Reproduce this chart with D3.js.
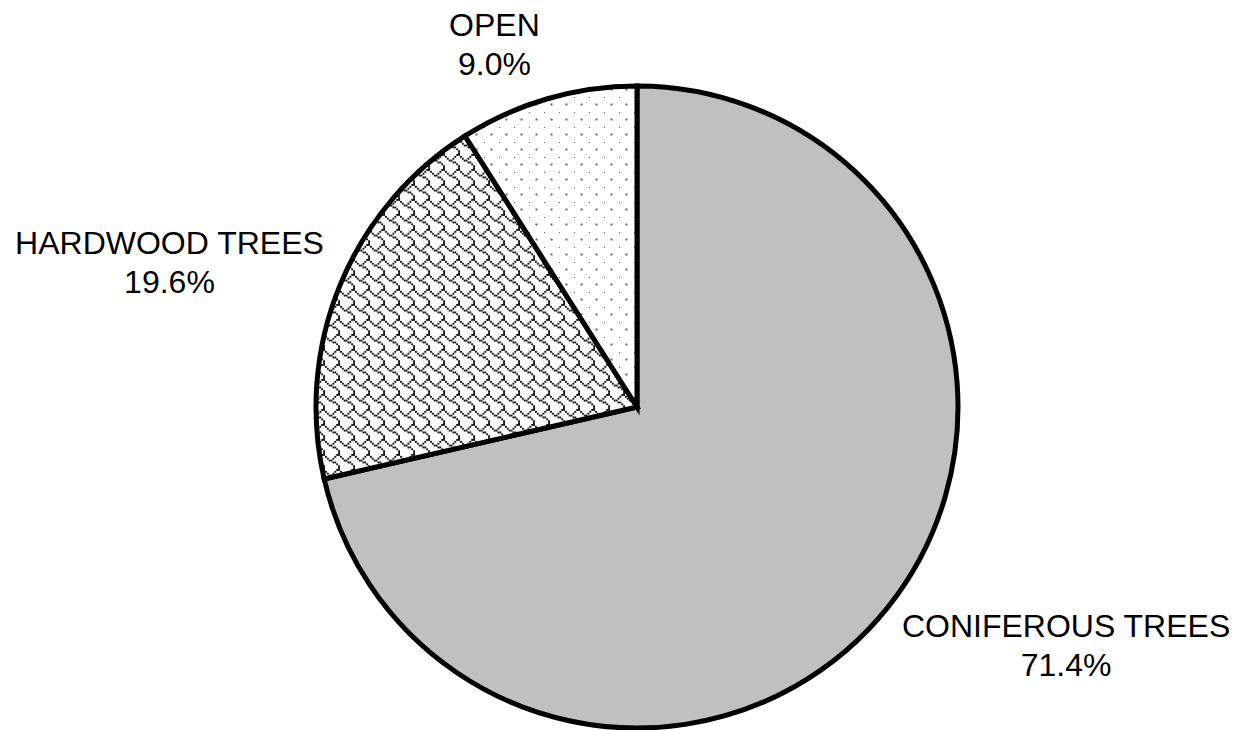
<!DOCTYPE html>
<html>
<head>
<meta charset="utf-8">
<script src="https://cdn.jsdelivr.net/npm/d3@7"></script>
<style>
  html, body { margin: 0; padding: 0; background: #fff; }
  svg { display: block; }
  text { font-family: "Liberation Sans", Arial, sans-serif; }
</style>
</head>
<body>
<svg id="chart" width="1239" height="730"></svg>
<script>
// ---- data ----
const categories = ["CONIFEROUS TREES", "HARDWOOD TREES", "OPEN"];
const values = [71.4, 19.6, 9.0];
const valueLabels = ["71.4%", "19.6%", "9.0%"];

// ---- layout ----
const W = 1239, H = 730;
const cx = 637, cy = 407, R = 321;
const labelPad = 30;
const fontSize = 32, lineGap = 39.5, capH = 23;
const labelNudge = { "OPEN": [-32, 4], "HARDWOOD TREES": [0, 0], "CONIFEROUS TREES": [26, 0] };
const fills = ["#c0c0c0", "url(#shingle)", "url(#dots)"];

const svg = d3.select("#chart");
const defs = svg.append("defs");

// Shingle pattern (8x8 bitmap scaled)
const shingleBits = [0x03, 0x84, 0x48, 0x30, 0x0c, 0x02, 0x01, 0x01];
const tile = 15, cell = tile / 8;
const sh = defs.append("pattern").attr("id", "shingle")
  .attr("patternUnits", "userSpaceOnUse").attr("width", tile).attr("height", tile)
  .attr("patternTransform", "translate(3,2)");
sh.append("rect").attr("width", tile).attr("height", tile).attr("fill", "#fff");
shingleBits.forEach((b, row) => {
  for (let col = 0; col < 8; col++) {
    if (b & (0x80 >> col)) {
      sh.append("rect").attr("x", col * cell).attr("y", row * cell)
        .attr("width", cell).attr("height", cell).attr("fill", "#111");
    }
  }
});

// Dots pattern
const dp = defs.append("pattern").attr("id", "dots")
  .attr("patternUnits", "userSpaceOnUse").attr("width", tile).attr("height", tile)
  .attr("patternTransform", "translate(12,5)");
dp.append("rect").attr("width", tile).attr("height", tile).attr("fill", "#fff");
[[0, 0], [tile / 2, tile / 2]].forEach(([x, y]) => {
  dp.append("rect").attr("x", x - 1).attr("y", y - 1).attr("width", 2).attr("height", 2).attr("fill", "#666");
});

const pie = d3.pie().sort(null).value(d => d.v).startAngle(0).endAngle(2 * Math.PI);
const data = categories.map((c, i) => ({ c, v: values[i], lab: valueLabels[i], fill: fills[i] }));
const arcs = pie(data);
const arc = d3.arc().innerRadius(0).outerRadius(R);

const g = svg.append("g").attr("transform", `translate(${cx},${cy})`);
g.selectAll("path.slice").data(arcs).join("path")
  .attr("class", "slice")
  .attr("d", arc)
  .attr("fill", d => d.data.fill)
  .attr("stroke", "#000")
  .attr("stroke-width", 5)
  .attr("stroke-linejoin", "miter");

// labels
const lg = svg.append("g");
arcs.forEach(a => {
  const mid = (a.startAngle + a.endAngle) / 2;
  const sx = Math.sin(mid), sy = -Math.cos(mid);
  const t = lg.append("text").attr("font-size", fontSize).attr("fill", "#000").attr("text-anchor", "middle");
  const t1 = t.append("tspan").text(a.data.c);
  const t2 = t.append("tspan").text(a.data.lab);
  const w = Math.max(t1.node().getComputedTextLength(), t2.node().getComputedTextLength());
  const h = capH + lineGap;
  const nud = labelNudge[a.data.c] || [0, 0];
  const lx = cx + sx * (R + labelPad) + sx * w / 2 + nud[0];
  const ly = cy + sy * (R + labelPad) + sy * h / 2 + nud[1];
  const b1 = ly - h / 2 + capH;
  t1.attr("x", lx).attr("y", b1);
  t2.attr("x", lx).attr("y", b1 + lineGap);
});
</script>
</body>
</html>
